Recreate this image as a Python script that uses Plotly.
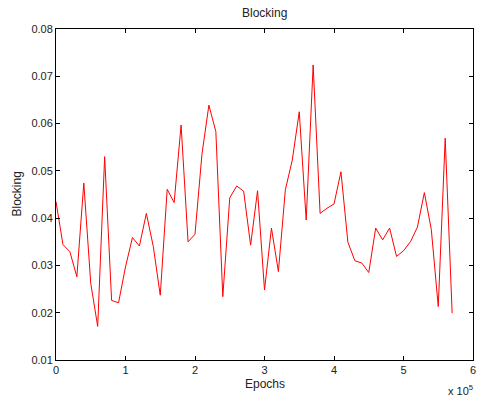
import plotly.graph_objects as go

# Blocking probability sampled every 10,000 epochs
epochs = [i * 10000 for i in range(58)]
blocking = [
    0.0435, 0.0344, 0.0329, 0.0276, 0.0474, 0.0262, 0.0171, 0.0530, 0.0226, 0.0221,
    0.0297, 0.0359, 0.0341, 0.0410, 0.0340, 0.0237, 0.0461, 0.0433, 0.0597, 0.0350,
    0.0366, 0.0535, 0.0639, 0.0583, 0.0234, 0.0443, 0.0468, 0.0457, 0.0343, 0.0458,
    0.0248, 0.0379, 0.0287, 0.0460, 0.0523, 0.0625, 0.0396, 0.0724, 0.0410, 0.0421,
    0.0430, 0.0498, 0.0349, 0.0310, 0.0305, 0.0285, 0.0379, 0.0354, 0.0379, 0.0319,
    0.0331, 0.0350, 0.0381, 0.0454, 0.0376, 0.0213, 0.0569, 0.0199,
]

x_ticks = [0, 1, 2, 3, 4, 5, 6]
y_ticks = [0.01, 0.02, 0.03, 0.04, 0.05, 0.06, 0.07, 0.08]
x_scale = 100000

font_family = "Liberation Sans, Arial, Helvetica, sans-serif"

fig = go.Figure(
    go.Scatter(
        x=epochs,
        y=blocking,
        mode="lines",
        line=dict(color="#ff0000", width=1),
        hoverinfo="skip",
    )
)

axis_common = dict(
    showgrid=False,
    zeroline=False,
    showline=True,
    linecolor="black",
    linewidth=1,
    mirror="ticks",
    ticks="inside",
    ticklen=4,
    tickwidth=1,
    tickcolor="black",
    tickfont=dict(family=font_family, size=11, color="#222222"),
)

fig.update_layout(
    width=480,
    height=398,
    margin=dict(l=56, r=4, t=29, b=38),
    paper_bgcolor="white",
    plot_bgcolor="white",
    showlegend=False,
    font=dict(family=font_family, size=11, color="#222222"),
    xaxis=dict(
        range=[0, 6 * x_scale],
        tickvals=[t * x_scale for t in x_ticks],
        ticktext=[str(t) for t in x_ticks],
        **axis_common,
    ),
    yaxis=dict(
        range=[0.01, 0.08],
        tickvals=y_ticks,
        ticktext=[f"{v:.2f}" for v in y_ticks],
        **axis_common,
    ),
    annotations=[
        dict(text="Blocking", xref="paper", yref="paper", x=0.5, y=1,
             xanchor="center", yanchor="bottom", yshift=7, showarrow=False,
             font=dict(size=12)),
        dict(text="Epochs", xref="paper", yref="paper", x=0.5, y=0,
             xanchor="center", yanchor="top", yshift=-15, showarrow=False,
             font=dict(size=12)),
        dict(text="Blocking", xref="paper", yref="paper", x=0, y=0.5,
             xanchor="center", yanchor="middle", xshift=-40, textangle=-90,
             showarrow=False, font=dict(size=12)),
        dict(text="x 10<sup>5</sup>", xref="paper", yref="paper", x=1, y=0,
             xanchor="right", yanchor="top", yshift=-21, xshift=2,
             showarrow=False, font=dict(size=11)),
    ],
)

fig.write_html("out.html")
